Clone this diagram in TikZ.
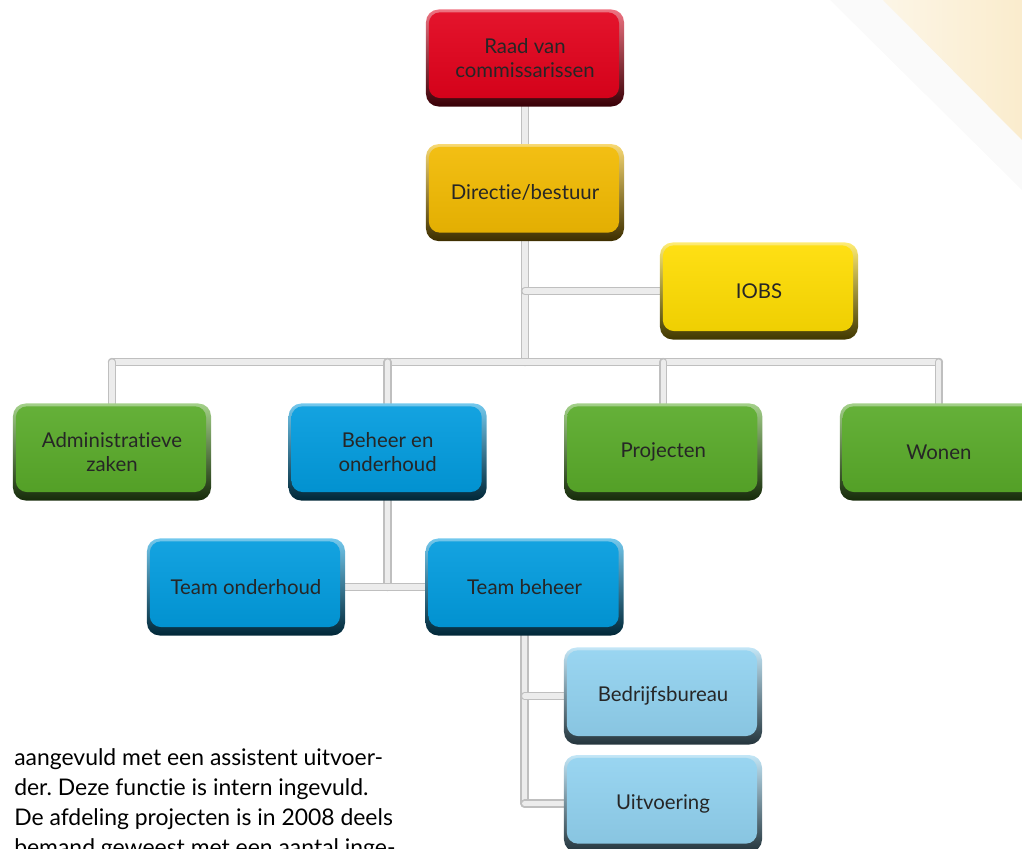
\documentclass[tikz,border=0pt]{standalone}
\usepackage{fontspec}
\setmainfont{Lato}[Ligatures=NoCommon]
\usetikzlibrary{positioning,backgrounds,calc}
\definecolor{raadRed}{RGB}{226,0,26}
\definecolor{dirGold}{RGB}{242,186,0}
\definecolor{iobsYellow}{RGB}{255,221,0}
\definecolor{afdGreen}{RGB}{88,170,40}
\definecolor{afdBlue}{RGB}{0,155,222}
\definecolor{teamBlue}{RGB}{145,210,240}
\definecolor{cornerBeige}{RGB}{250,236,205}
\tikzset{
    orgbox/.style={
        rectangle,
        rounded corners=9pt,
        minimum width=4.95cm,
        minimum height=2.425cm,
        align=center,
        text=black!85,
        font=\fontsize{14.5}{17}\selectfont,
        top color=#1!55!white,
        bottom color=#1!25!black,
        path picture={
            \shade[top color=#1!92!white, bottom color=#1!93!black, rounded corners=8pt]
                ([xshift=2pt,yshift=-2pt]path picture bounding box.north west)
                rectangle ([xshift=-3.5pt,yshift=6pt]path picture bounding box.south east);
        }
    },
    pipe/.style={
        draw=gray!50,
        line width=1.2pt,
        double=gray!15,
        double distance=3.6pt,
        line cap=round
    }
}

\begin{document}
\frenchspacing
\begin{tikzpicture}[x=0.025cm, y=-0.025cm]
    \clip (0,0) rectangle (1022,849);

    % top and middle
    \node[orgbox=raadRed] (raad) at (525,58) {Raad van\\commissarissen};
    \node[orgbox=dirGold, below=0.925cm of raad] (dir) {Directie/bestuur};
    \node[orgbox=iobsYellow] (iobs) at (759,291) {IOBS};

    % afdelingen
    \node[orgbox=afdGreen] (adm) at (112,452) {Administratieve\\zaken};
    \node[orgbox=afdBlue, right=1.925cm of adm] (beheer) {Beheer en\\onderhoud};
    \node[orgbox=afdGreen, right=1.925cm of beheer] (proj) {Projecten};
    \node[orgbox=afdGreen, right=1.925cm of proj] (wonen) {Wonen};

    % teams
    \node[orgbox=afdBlue] (tonder) at (246,587) {Team onderhoud};
    \node[orgbox=afdBlue, right=2cm of tonder] (tbeheer) {Team beheer};
    \node[orgbox=teamBlue] (bureau) at (663,696) {Bedrijfsbureau};
    \node[orgbox=teamBlue, below=0.25cm of bureau] (uitv) {Uitvoering};

    \node[anchor=north west, align=left, inner sep=0pt,
          font=\fontsize{16.3}{21.3}\selectfont] (tekst) at (14,748)
        {aangevuld met een assistent uitvoer-\\
         der. Deze functie is intern ingevuld.\\
         De afdeling projecten is in 2008 deels\\
         bemand geweest met een aantal inge-};

    \coordinate (bus) at (dir |- 0,362);

    \begin{scope}[on background layer]
        \fill[gray!4] (830,0) -- (1022,0) -- (1022,190) -- cycle;
        \shade[left color=cornerBeige!50, right color=cornerBeige]
            (883,0) -- (1022,0) -- (1022,140) -- cycle;

        \draw[pipe] (raad) -- (dir);
        \draw[pipe] (dir) -- (bus);
        \draw[pipe] (dir |- iobs) -- (iobs);
        \draw[pipe] (adm |- bus) -- (wonen |- bus);
        \foreach \afd in {adm, beheer, proj, wonen}
            \draw[pipe] (\afd |- bus) -- (\afd);
        \draw[pipe] (beheer) -- (beheer |- tonder);
        \draw[pipe] (tonder) -- (tbeheer);
        \draw[pipe] (tbeheer) -- (tbeheer |- uitv);
        \draw[pipe] (tbeheer |- bureau) -- (bureau);
        \draw[pipe] (tbeheer |- uitv) -- (uitv);
    \end{scope}
\end{tikzpicture}
\end{document}
